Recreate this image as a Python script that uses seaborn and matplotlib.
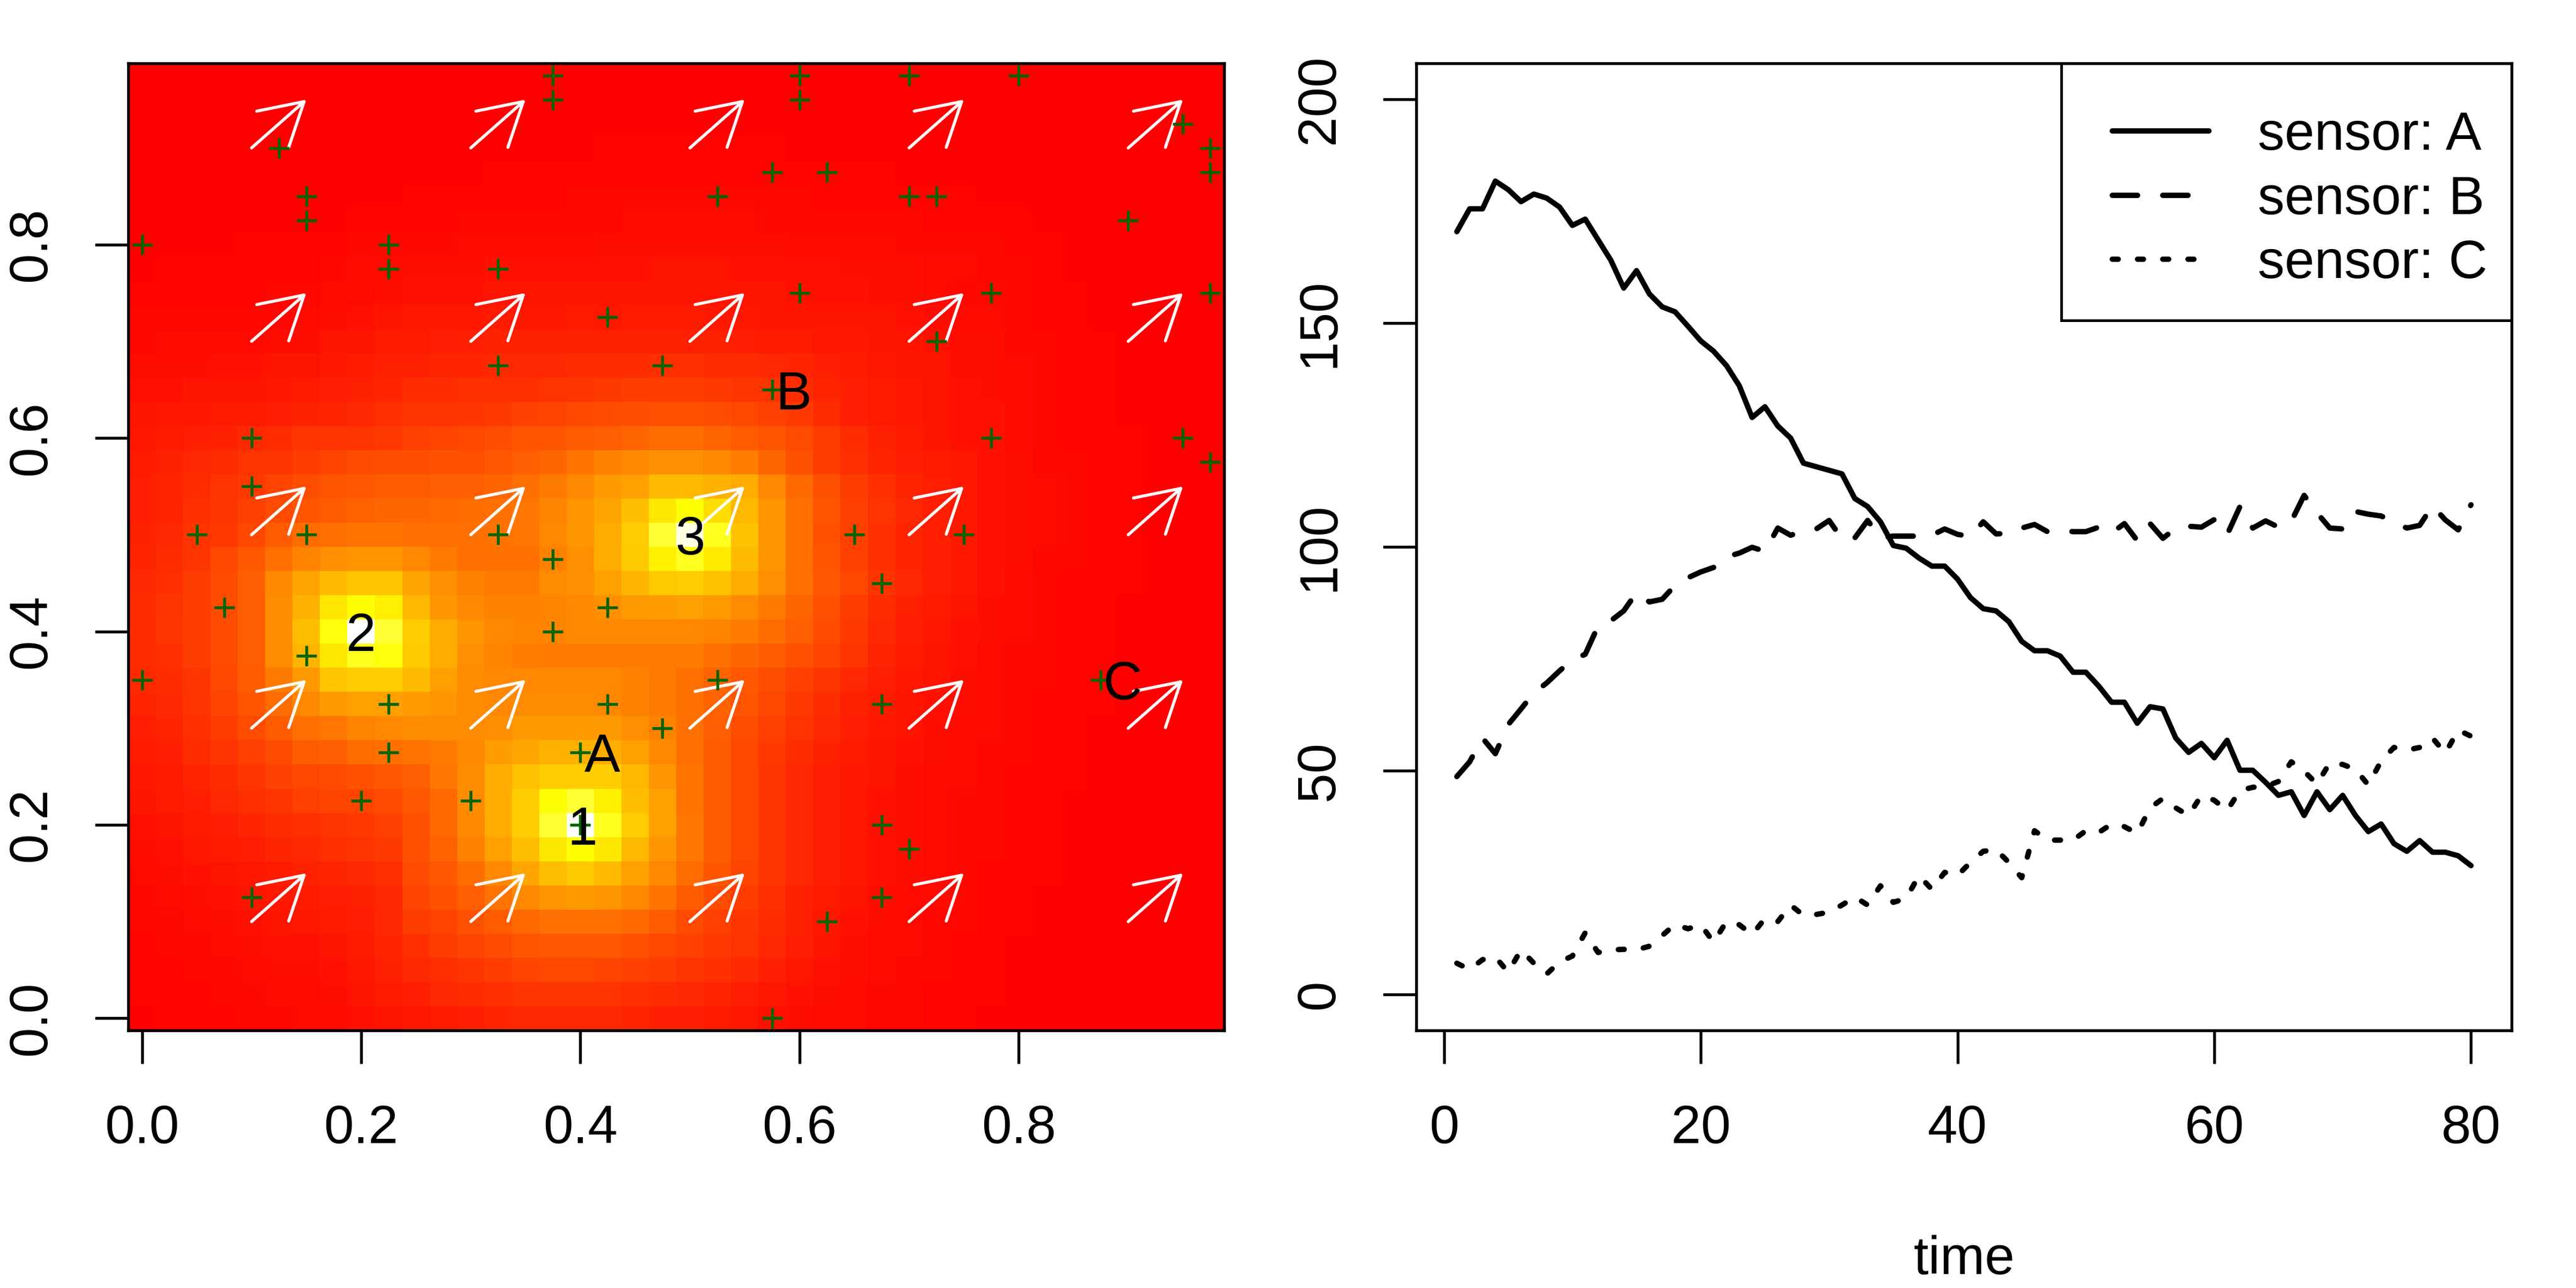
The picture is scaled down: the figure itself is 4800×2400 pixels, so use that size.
import numpy as np
import pandas as pd
import matplotlib
matplotlib.use('Agg')
import matplotlib.pyplot as plt
from matplotlib.colors import LinearSegmentedColormap
from matplotlib.patches import Rectangle
import seaborn as sns

# grid cell centres of the left image
grid_x = [i * 0.025 for i in range(40)]
grid_y = [i * 0.025 for i in range(40)]

# image values read by eye, 0 = red, 75 = yellow, 100 = white, top row first
field_rows = [
    [0] * 40,
    [0] * 40,
    [0] * 40,
    [0] * 17 + [1] * 7 + [0] * 16,
    [0] * 13 + [1] * 15 + [0] * 12,
    [0] * 10 + [1] * 6 + [2] * 9 + [1] * 6 + [0] * 9,
    [0, 0, 0, 0, 0, 0, 0, 0, 1, 1, 1, 1, 2, 2, 2, 2, 2, 2, 3, 3, 3, 3, 3, 2, 2, 2, 2, 2, 2, 1, 1, 1, 1, 0, 0, 0, 0, 0, 0, 0],
    [0, 0, 0, 0, 1, 1, 1, 1, 2, 2, 2, 2, 3, 3, 3, 3, 3, 4, 4, 4, 4, 4, 4, 4, 3, 3, 3, 3, 2, 2, 2, 2, 1, 1, 0, 0, 0, 0, 0, 0],
    [0, 1, 1, 1, 1, 1, 1, 2, 3, 3, 4, 4, 4, 5, 5, 5, 5, 5, 5, 6, 6, 6, 5, 5, 5, 5, 4, 4, 4, 3, 3, 2, 2, 1, 0, 0, 0, 0, 0, 0],
    [1, 1, 1, 1, 1, 2, 2, 3, 3, 4, 5, 5, 5, 6, 6, 6, 6, 6, 6, 6, 6, 6, 6, 6, 5, 5, 5, 4, 4, 3, 2, 2, 2, 1, 1, 0, 0, 0, 0, 0],
    [2, 2, 2, 2, 2, 2, 3, 4, 5, 6, 7, 7, 7, 8, 7, 7, 8, 7, 8, 8, 8, 7, 7, 6, 6, 6, 6, 6, 5, 4, 3, 3, 2, 1, 1, 0, 0, 0, 0, 0],
    [2, 3, 3, 3, 3, 4, 4, 6, 6, 8, 8, 9, 9, 10, 10, 10, 10, 10, 10, 10, 10, 10, 9, 8, 8, 7, 7, 6, 6, 5, 4, 4, 2, 2, 1, 1, 0, 0, 0, 0],
    [4, 4, 4, 5, 5, 6, 6, 7, 8, 10, 10, 11, 11, 12, 12, 12, 13, 13, 13, 14, 14, 13, 13, 12, 11, 9, 8, 7, 6, 6, 4, 4, 3, 2, 1, 1, 0, 0, 0, 0],
    [5, 5, 6, 6, 6, 7, 8, 9, 10, 11, 13, 13, 14, 14, 14, 15, 16, 17, 18, 18, 18, 17, 16, 15, 13, 11, 9, 8, 7, 6, 5, 4, 3, 2, 1, 1, 0, 0, 0, 0],
    [6, 7, 7, 8, 8, 9, 10, 11, 12, 14, 15, 15, 16, 17, 19, 20, 21, 22, 23, 24, 24, 23, 21, 19, 17, 13, 9, 8, 7, 6, 5, 5, 3, 2, 1, 1, 0, 0, 0, 0],
    [7, 8, 9, 10, 12, 13, 15, 15, 16, 17, 19, 20, 21, 23, 25, 25, 27, 28, 30, 32, 32, 30, 27, 25, 22, 18, 13, 10, 8, 6, 5, 5, 3, 2, 1, 1, 1, 0, 0, 0],
    [8, 10, 12, 13, 15, 16, 18, 20, 22, 23, 23, 24, 24, 26, 28, 30, 34, 38, 40, 42, 42, 40, 37, 30, 24, 18, 14, 11, 9, 8, 7, 5, 4, 2, 2, 1, 1, 0, 0, 0],
    [9, 11, 13, 15, 17, 20, 23, 25, 26, 27, 27, 28, 28, 30, 33, 36, 40, 45, 47, 54, 54, 52, 50, 40, 31, 24, 18, 14, 11, 9, 7, 5, 4, 3, 2, 1, 1, 0, 0, 0],
    [9, 11, 14, 16, 19, 22, 25, 27, 29, 30, 30, 31, 32, 33, 35, 39, 44, 48, 56, 68, 75, 65, 54, 44, 33, 25, 19, 15, 12, 9, 7, 5, 4, 3, 2, 1, 1, 0, 0, 0],
    [10, 12, 15, 17, 21, 27, 32, 33, 34, 34, 33, 33, 33, 34, 35, 40, 44, 50, 60, 80, 97, 78, 57, 44, 33, 24, 19, 14, 11, 9, 7, 5, 4, 3, 2, 1, 1, 0, 0, 0],
    [11, 13, 16, 21, 26, 33, 39, 42, 43, 43, 40, 36, 33, 33, 33, 38, 42, 50, 59, 71, 78, 69, 55, 44, 33, 25, 19, 14, 11, 9, 7, 5, 4, 2, 2, 1, 1, 0, 0, 0],
    [12, 14, 18, 22, 28, 40, 48, 55, 58, 58, 48, 42, 38, 36, 36, 41, 42, 47, 53, 59, 60, 57, 50, 42, 33, 26, 21, 16, 12, 9, 7, 5, 3, 2, 1, 1, 1, 0, 0, 0],
    [13, 15, 18, 22, 28, 41, 52, 68, 75, 70, 54, 44, 40, 38, 38, 39, 40, 42, 45, 46, 47, 45, 41, 36, 30, 24, 18, 13, 10, 8, 6, 4, 3, 2, 1, 1, 0, 0, 0, 0],
    [13, 16, 18, 22, 28, 41, 56, 76, 100, 80, 60, 50, 44, 40, 39, 39, 40, 40, 40, 40, 40, 39, 36, 32, 28, 22, 17, 12, 9, 7, 5, 4, 3, 2, 1, 1, 0, 0, 0, 0],
    [13, 14, 18, 22, 28, 41, 53, 68, 78, 76, 59, 50, 42, 39, 37, 36, 36, 36, 36, 36, 36, 33, 30, 27, 24, 20, 15, 11, 8, 6, 5, 3, 2, 2, 1, 1, 0, 0, 0, 0],
    [12, 13, 16, 21, 27, 36, 45, 58, 60, 60, 55, 47, 41, 40, 40, 40, 40, 40, 38, 36, 33, 29, 26, 23, 19, 16, 12, 9, 7, 6, 4, 3, 2, 2, 1, 1, 0, 0, 0, 0],
    [11, 12, 15, 20, 25, 32, 40, 45, 47, 47, 46, 44, 41, 40, 41, 41, 41, 40, 38, 36, 33, 29, 25, 21, 17, 13, 10, 8, 6, 5, 4, 3, 2, 1, 1, 1, 0, 0, 0, 0],
    [9, 11, 14, 18, 22, 27, 33, 35, 39, 40, 41, 41, 41, 42, 45, 45, 45, 45, 42, 38, 33, 28, 23, 19, 15, 12, 9, 7, 6, 4, 3, 3, 2, 1, 1, 0, 0, 0, 0, 0],
    [8, 9, 13, 15, 19, 22, 27, 28, 32, 33, 34, 36, 40, 46, 49, 52, 52, 51, 47, 40, 33, 27, 21, 17, 13, 10, 8, 6, 5, 4, 3, 2, 2, 1, 1, 0, 0, 0, 0, 0],
    [7, 8, 11, 13, 16, 19, 21, 22, 24, 26, 28, 35, 41, 51, 57, 60, 60, 60, 54, 44, 34, 27, 21, 16, 12, 9, 7, 6, 4, 3, 3, 2, 1, 1, 1, 0, 0, 0, 0, 0],
    [6, 8, 9, 12, 14, 16, 19, 20, 20, 22, 26, 31, 41, 50, 60, 75, 80, 71, 56, 47, 34, 27, 21, 16, 12, 9, 7, 5, 4, 3, 2, 2, 1, 1, 0, 0, 0, 0, 0, 0],
    [5, 6, 8, 9, 11, 13, 14, 16, 17, 19, 24, 31, 40, 50, 60, 80, 100, 78, 60, 47, 35, 27, 21, 16, 12, 9, 7, 5, 4, 3, 2, 2, 1, 1, 0, 0, 0, 0, 0, 0],
    [4, 5, 7, 8, 9, 11, 12, 14, 15, 17, 24, 29, 38, 47, 56, 68, 75, 68, 54, 44, 35, 27, 21, 16, 12, 9, 7, 5, 4, 3, 2, 2, 1, 1, 0, 0, 0, 0, 0, 0],
    [3, 4, 5, 6, 7, 8, 10, 11, 12, 14, 22, 26, 32, 40, 49, 56, 59, 55, 47, 40, 32, 25, 20, 16, 12, 9, 7, 5, 4, 3, 2, 1, 1, 1, 0, 0, 0, 0, 0, 0],
    [2, 3, 4, 5, 6, 7, 8, 9, 10, 12, 20, 24, 28, 34, 40, 44, 45, 44, 40, 34, 27, 22, 18, 14, 10, 8, 6, 4, 3, 3, 2, 1, 1, 0, 0, 0, 0, 0, 0, 0],
    [2, 2, 3, 4, 5, 6, 7, 8, 9, 12, 18, 20, 24, 27, 31, 33, 33, 33, 31, 27, 22, 19, 16, 13, 10, 7, 5, 4, 3, 2, 2, 1, 1, 0, 0, 0, 0, 0, 0, 0],
    [1, 2, 2, 3, 4, 5, 5, 6, 8, 11, 14, 18, 20, 22, 25, 26, 26, 26, 24, 21, 19, 17, 15, 12, 9, 6, 4, 3, 3, 2, 1, 1, 0, 0, 0, 0, 0, 0, 0, 0],
    [1, 1, 2, 2, 3, 4, 4, 5, 7, 10, 12, 14, 16, 18, 20, 21, 21, 20, 19, 18, 15, 14, 12, 9, 7, 5, 4, 3, 2, 2, 1, 1, 0, 0, 0, 0, 0, 0, 0, 0],
    [1, 1, 1, 2, 2, 3, 3, 4, 6, 8, 9, 12, 13, 14, 15, 16, 16, 15, 14, 13, 12, 11, 9, 7, 5, 4, 3, 2, 2, 1, 1, 1, 0, 0, 0, 0, 0, 0, 0, 0],
    [0, 1, 1, 1, 2, 2, 3, 3, 5, 6, 7, 8, 9, 11, 12, 12, 12, 12, 11, 9, 9, 8, 7, 5, 4, 3, 3, 2, 2, 1, 1, 0, 0, 0, 0, 0, 0, 0, 0, 0],
]

# green crosses
point_x = [0.375, 0.375, 0.6, 0.6, 0.7, 0.8, 0.95, 0.975, 0.125, 0.975, 0.575, 0.625, 0.15, 0.525, 0.7, 0.725,
           0.15, 0.9, 0.0, 0.225, 0.225, 0.325, 0.6, 0.775, 0.975, 0.425, 0.725, 0.325, 0.475, 0.575, 0.1, 0.775,
           0.95, 0.975, 0.1, 0.05, 0.15, 0.325, 0.65, 0.75, 0.375, 0.675, 0.075, 0.425, 0.375, 0.15, 0.0, 0.525,
           0.875, 0.225, 0.425, 0.675, 0.475, 0.225, 0.4, 0.2, 0.3, 0.4, 0.675, 0.7, 0.1, 0.675, 0.625, 0.575]
point_y = [0.975, 0.95, 0.975, 0.95, 0.975, 0.975, 0.925, 0.9, 0.9, 0.875, 0.875, 0.875, 0.85, 0.85, 0.85, 0.85,
           0.825, 0.825, 0.8, 0.8, 0.775, 0.775, 0.75, 0.75, 0.75, 0.725, 0.7, 0.675, 0.675, 0.65, 0.6, 0.6,
           0.6, 0.575, 0.55, 0.5, 0.5, 0.5, 0.5, 0.5, 0.475, 0.45, 0.425, 0.425, 0.4, 0.375, 0.35, 0.35,
           0.35, 0.325, 0.325, 0.325, 0.3, 0.275, 0.275, 0.225, 0.225, 0.2, 0.2, 0.175, 0.125, 0.125, 0.1, 0.0]

# white arrows
arrow_x = [0.1, 0.3, 0.5, 0.7, 0.9]
arrow_y = [0.1, 0.3, 0.5, 0.7, 0.9]
arrow_step = 0.05

# text labels on the image
label_text = ['1', '2', '3', 'A', 'B', 'C']
label_x = [0.402, 0.2, 0.5, 0.42, 0.595, 0.895]
label_y = [0.2, 0.4, 0.5, 0.275, 0.65, 0.35]

# sensor series
time = list(range(1, 81))
sensor_a = [170.4, 175.5, 175.5, 181.7, 179.8, 177.1, 178.8, 177.9, 175.9, 171.8,
            173.2, 168.6, 164.0, 157.8, 161.7, 156.5, 153.6, 152.5, 149.3, 146.0,
            143.7, 140.5, 136.0, 128.9, 131.3, 127.0, 124.3, 118.7, 117.9, 117.1,
            116.3, 110.8, 109.0, 105.6, 100.3, 99.7, 97.5, 95.7, 95.7, 92.8,
            88.7, 86.2, 85.7, 83.3, 78.9, 76.8, 76.8, 75.6, 72.0, 72.0,
            68.9, 65.3, 65.3, 60.6, 64.3, 63.8, 57.3, 54.1, 56.1, 52.9,
            56.8, 50.1, 50.1, 47.4, 44.5, 45.3, 40.0, 45.3, 41.3, 44.5,
            40.0, 36.4, 38.1, 33.7, 32.0, 34.4, 31.8, 31.8, 31.0, 28.8]
sensor_b = [48.7, 52.0, 57.3, 53.8, 60.3, 63.8, 67.4, 69.6, 72.3, 74.8,
            76.0, 82.3, 83.5, 85.7, 89.8, 87.7, 88.3, 91.4, 93.1, 94.4,
            95.4, 97.8, 98.6, 99.9, 99.0, 104.2, 102.6, 103.5, 104.0, 105.9,
            101.8, 102.0, 105.9, 102.0, 102.4, 102.4, 102.4, 102.6, 104.0, 102.8,
            102.3, 105.6, 102.9, 103.0, 104.2, 105.0, 103.4, 103.7, 103.4, 103.4,
            104.4, 103.1, 105.2, 101.4, 105.2, 101.9, 104.2, 104.6, 104.4, 106.1,
            102.7, 109.0, 104.2, 105.8, 104.4, 105.7, 111.5, 107.6, 104.2, 104.0,
            107.9, 107.3, 106.9, 105.5, 104.2, 104.8, 109.2, 106.0, 103.8, 109.4]
sensor_c = [7.0, 5.6, 7.8, 8.4, 5.0, 10.0, 7.0, 4.6, 7.3, 8.6,
            13.8, 9.4, 10.0, 10.1, 10.0, 10.8, 13.2, 15.7, 14.7, 15.6,
            11.7, 16.3, 15.6, 13.4, 17.0, 16.3, 20.0, 17.7, 17.9, 18.4,
            20.0, 21.8, 20.0, 24.3, 20.6, 21.5, 26.6, 23.5, 27.3, 26.6,
            29.5, 32.0, 32.4, 29.5, 26.1, 36.6, 34.5, 34.5, 34.5, 36.6,
            36.2, 38.1, 37.5, 36.0, 41.7, 43.8, 41.7, 40.0, 44.5, 43.4,
            41.1, 45.6, 46.3, 46.5, 47.6, 52.0, 49.9, 47.0, 51.8, 51.4,
            50.3, 46.8, 52.2, 55.2, 54.6, 55.2, 57.3, 53.9, 59.1, 57.7]

sns.set_style('ticks')
plt.rcParams['font.family'] = ['Liberation Sans', 'DejaVu Sans']
plt.rcParams['font.size'] = 24
plt.rcParams['lines.solid_capstyle'] = 'round'
plt.rcParams['lines.dash_capstyle'] = 'round'
plt.rcParams['lines.solid_joinstyle'] = 'round'
plt.rcParams['lines.dash_joinstyle'] = 'round'
plt.rcParams['text.color'] = 'black'
plt.rcParams['axes.labelcolor'] = 'black'
plt.rcParams['xtick.color'] = 'black'
plt.rcParams['ytick.color'] = 'black'

fig = plt.figure(figsize=(16, 8), dpi=300)
ax1 = fig.add_axes([239 / 4800, 480 / 2400, 2042 / 4800, 1802 / 2400])
ax2 = fig.add_axes([2639 / 4800, 480 / 2400, 2041 / 4800, 1802 / 2400])

# 左图
heat = LinearSegmentedColormap.from_list('heat', [(0, '#ff0000'), (0.75, '#ffff00'), (1, '#ffffff')], N=256)
field = np.array(field_rows)[::-1]
ax1.pcolormesh(grid_x, grid_y, field, cmap=heat, vmin=0, vmax=100, shading='nearest', zorder=1)

for ax0 in arrow_x:
    for ay0 in arrow_y:
        ax1.annotate('', xy=(ax0 + arrow_step, ay0 + arrow_step), xytext=(ax0, ay0), zorder=3,
                     arrowprops=dict(arrowstyle='->,head_length=18.7,head_width=10.8', mutation_scale=1,
                                     color='white', lw=1.35, shrinkA=0, shrinkB=0,
                                     capstyle='round', joinstyle='round'))

sns.scatterplot(x=point_x, y=point_y, marker='+', color='#006400', s=80, linewidth=1.3, zorder=4, ax=ax1, legend=False)

for txt, lx, ly in zip(label_text, label_x, label_y):
    ax1.text(lx, ly, txt, ha='center', va='center_baseline', fontsize=24, color='black', zorder=5)

ax1.set_xlim(-0.0125, 0.9875)
ax1.set_ylim(-0.0125, 0.9875)
ax1.set_xticks([0.0, 0.2, 0.4, 0.6, 0.8])
ax1.set_yticks([0.0, 0.2, 0.4, 0.6, 0.8])
ax1.set_xticklabels(['0.0', '0.2', '0.4', '0.6', '0.8'])
ax1.set_yticklabels(['0.0', '0.2', '0.4', '0.6', '0.8'], rotation=90, va='center')

# 右图
df = pd.DataFrame({
    'time': time * 3,
    'value': sensor_a + sensor_b + sensor_c,
    'sensor': ['sensor: A'] * 80 + ['sensor: B'] * 80 + ['sensor: C'] * 80,
})
sns.lineplot(data=df, x='time', y='value', style='sensor', color='black', linewidth=2.4,
             dashes={'sensor: A': '', 'sensor: B': (4.7, 4.7), 'sensor: C': (1.1, 3.6)},
             errorbar=None, ax=ax2)

ax2.set_xlim(-2.16, 83.16)
ax2.set_ylim(-8, 208)
ax2.set_xticks([0, 20, 40, 60, 80])
ax2.set_yticks([0, 50, 100, 150, 200])
ax2.set_yticklabels(['0', '50', '100', '150', '200'], rotation=90, va='center')
ax2.set_ylabel('')
ax2.set_xlabel('time', labelpad=36)

# legend box drawn on its own so that the rows can sit where they sit in the picture
ax2.add_patch(Rectangle((0.589, 0.734), 0.411, 0.266, transform=ax2.transAxes, facecolor='white',
                        edgecolor='black', linewidth=1.2, zorder=4))
leg = ax2.legend(loc='upper left', bbox_to_anchor=(0.6355, 0.951), borderaxespad=0, frameon=False,
                 fontsize=24, handlelength=1.8, handletextpad=0.91, labelspacing=0.254, borderpad=0, title=None)

for ax in [ax1, ax2]:
    ax.tick_params(length=14.9, width=1.3, labelsize=24)
    ax.tick_params(axis='x', pad=18)
    ax.tick_params(axis='y', pad=17)
    for sp in ax.spines.values():
        sp.set_linewidth(1.3)
        sp.set_visible(True)
        sp.set_color('black')
        sp.set_zorder(6)

fig.savefig('out.png', dpi=300)
